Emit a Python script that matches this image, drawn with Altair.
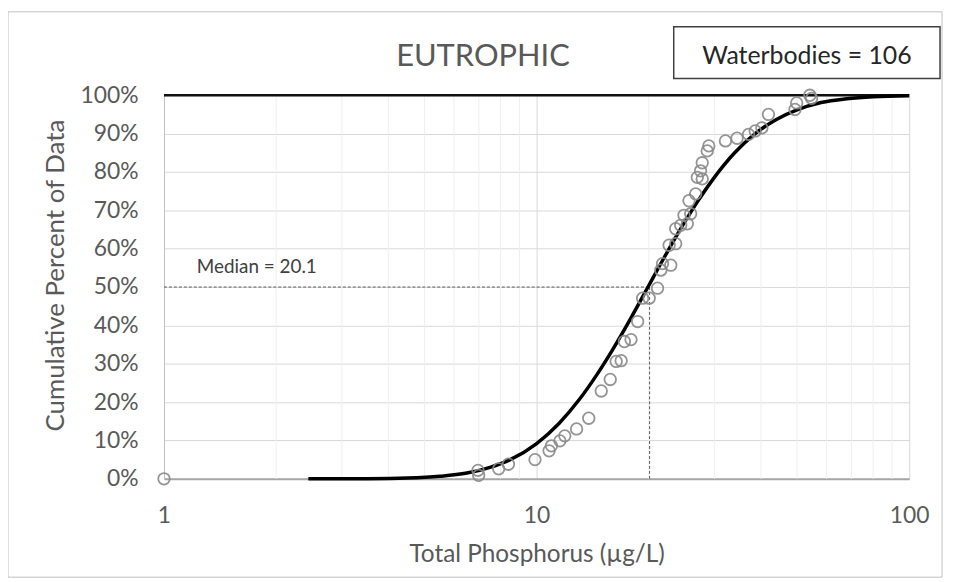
import altair as alt
import pandas as pd

# ---------------- data ----------------
tp_values = [1.0, 6.99, 6.96, 7.91, 8.40, 9.90, 10.80, 10.96, 11.55, 11.90,
             12.80, 13.80, 14.91, 15.76, 16.35, 16.86, 17.20, 17.92, 18.67, 19.25,
             20.05, 21.11, 21.54, 21.77, 22.91, 22.68, 23.62, 23.62, 24.36, 25.38,
             24.86, 25.91, 25.64, 26.72, 26.99, 27.83, 27.54, 27.83, 28.70, 28.98,
             32.12, 34.51, 37.05, 38.61, 40.23, 41.90, 49.36, 49.88, 54.12, 54.69]
cum_pct = [0.0, 0.9, 2.2, 2.6, 3.8, 5.0, 7.3, 8.6, 9.9, 11.2,
           13.0, 15.8, 22.9, 25.9, 30.6, 30.8, 35.8, 36.3, 41.0, 47.1,
           47.1, 49.7, 54.4, 56.1, 55.7, 60.9, 61.3, 65.2, 66.1, 66.5,
           68.7, 69.1, 72.5, 74.3, 78.6, 78.2, 80.3, 82.4, 85.5, 86.8,
           88.1, 88.8, 89.8, 90.7, 91.5, 95.0, 96.3, 98.0, 100.0, 99.2]

curve_tp = [2.44, 3.5, 4.5, 5.5, 6.5, 7.5, 8.5, 10.0, 11.5, 13.0, 14.5, 16.0,
            18.0, 20.0, 22.0, 24.5, 27.0, 30.0, 34.0, 38.6, 44.0, 50.0, 58.0,
            68.0, 80.0, 100.0]
curve_pct = [0.0, 0.04, 0.2, 0.65, 1.5, 3.0, 5.0, 9.2, 14.5, 20.6, 27.1, 33.7,
             42.3, 50.4, 57.7, 65.6, 72.2, 78.6, 85.0, 90.0, 93.7, 96.2, 98.1,
             99.1, 99.64, 99.9]

minor_grid = [2, 3, 4, 5, 6, 7, 8, 9, 20, 30, 40, 50, 60, 70, 80, 90]
x_ticks = [1, 10, 100]
y_ticks = [0, 10, 20, 30, 40, 50, 60, 70, 80, 90, 100]
median_tp = 20.1
median_pct = 50
n_waterbodies = 106
chart_title = "EUTROPHIC"

FONT = "Lato"
GREY_TXT = "#595959"
W, H = 750, 386

pts = pd.DataFrame({"tp": tp_values, "pct": cum_pct})
crv = pd.DataFrame({"tp": curve_tp, "pct": curve_pct})
minor = pd.DataFrame({"tp": minor_grid})
med = pd.DataFrame({"tp": [median_tp], "pct": [median_pct], "x0": [1], "y0": [0],
                    "label": [f"Median = {median_tp}"]})
top = pd.DataFrame({"pct": [100]})
one = pd.DataFrame({"a": [0]})
title_df = pd.DataFrame({"t": [chart_title]})
wb_df = pd.DataFrame({"t": [f"Waterbodies = {n_waterbodies}"]})

xscale = alt.Scale(type="log", domain=[1, 100])
yscale = alt.Scale(domain=[0, 100])

x_axis = alt.Axis(values=x_ticks, format="d", title="Total Phosphorus (µg/L)",
                  grid=True, gridColor="#d9d9d9", gridWidth=1,
                  domainColor="#a6a6a6", domainWidth=2, ticks=False, tickSize=0,
                  labelPadding=26, labelFlush=False, labelOverlap=False,
                  labelFont=FONT, labelFontSize=23,
                  labelColor=GREY_TXT, titleFont=FONT, titleFontSize=24.5,
                  titleColor=GREY_TXT, titleFontWeight="normal",
                  titleX=375, titleY=83, titleBaseline="alphabetic", titleAlign="center")
y_axis = alt.Axis(values=y_ticks, labelExpr="datum.value + '%'",
                  title="Cumulative Percent of Data",
                  grid=True, gridColor="#d9d9d9", gridWidth=1,
                  domainColor="#bfbfbf", domainWidth=1, ticks=False, tickSize=0,
                  labelPadding=26, labelOverlap=False, labelFont=FONT, labelFontSize=23,
                  labelColor=GREY_TXT,
                  titleFont=FONT, titleFontSize=26, titleColor=GREY_TXT,
                  titleFontWeight="normal", titleX=-109, titleY=181, titleAngle=270,
                  titleBaseline="middle", titleAlign="center")


def X(field):
    return alt.X(field, scale=xscale, axis=x_axis)


def Y(field):
    return alt.Y(field, scale=yscale, axis=y_axis)


minor_layer = alt.Chart(minor).mark_rule(color="#efefef", strokeWidth=1).encode(
    x=X("tp:Q")
)

med_h = alt.Chart(med).mark_rule(color="#595959", strokeWidth=1, strokeDash=[3, 2]).encode(
    x=X("x0:Q"), x2="tp:Q", y=Y("pct:Q")
)
med_v = alt.Chart(med).mark_rule(color="#595959", strokeWidth=1, strokeDash=[3, 2]).encode(
    x=X("tp:Q"), y=Y("y0:Q"), y2="pct:Q"
)

top_rule = alt.Chart(top).mark_rule(color="#111111", strokeWidth=2.5).encode(
    y=Y("pct:Q")
)

points = alt.Chart(pts).mark_point(shape="circle", filled=False, size=135,
                                   strokeWidth=1.8, color="#8a8a8a", opacity=0.9).encode(
    x=X("tp:Q"), y=Y("pct:Q")
)

curve = alt.Chart(crv).mark_line(color="black", strokeWidth=3.5, interpolate="monotone").encode(
    x=X("tp:Q"), y=Y("pct:Q")
)

med_text = alt.Chart(med).mark_text(align="left", baseline="alphabetic", font=FONT,
                                    fontSize=19, color="#404040").encode(
    x=alt.value(33), y=alt.value(179), text="label:N"
)

title_text = alt.Chart(title_df).mark_text(align="center", baseline="alphabetic", font=FONT,
                                           fontSize=31, color=GREY_TXT).encode(
    x=alt.value(321), y=alt.value(-29), text="t:N"
)

box = alt.Chart(one).mark_rect(fill="white", stroke="#404040", strokeWidth=1.5).encode(
    x=alt.value(513), x2=alt.value(781), y=alt.value(-69), y2=alt.value(-17)
)

wb_text = alt.Chart(wb_df).mark_text(align="center", baseline="alphabetic", font=FONT,
                                     fontSize=25, color="#262626").encode(
    x=alt.value(647), y=alt.value(-31), text="t:N"
)

frame = alt.Chart(one).mark_rect(fill="transparent", stroke="#bfbfbf", strokeWidth=1).encode(
    x=alt.value(-157), x2=alt.value(783), y=alt.value(-84), y2=alt.value(485)
)

chart = alt.layer(
    frame, minor_layer, top_rule, med_h, med_v, curve, points,
    med_text, title_text, box, wb_text
).properties(
    width=W, height=H,
    autosize=alt.AutoSizeParams(type="none"),
    padding={"left": 157, "top": 86, "right": 36, "bottom": 100},
).configure_view(stroke=None)

chart.save("out.html", embed_options={"renderer": "svg", "actions": False})
